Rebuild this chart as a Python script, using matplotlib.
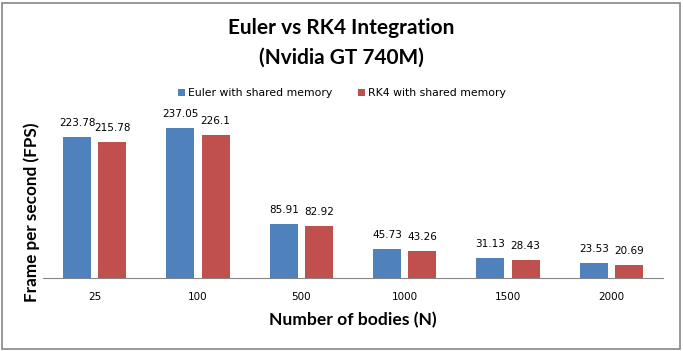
import numpy as np
import matplotlib
matplotlib.use('Agg')
import matplotlib.pyplot as plt
from matplotlib.patches import Rectangle

categories = ['25', '100', '500', '1000', '1500', '2000']
euler = [223.78, 237.05, 85.91, 45.73, 31.13, 23.53]
rk4 = [215.78, 226.1, 82.92, 43.26, 28.43, 20.69]
euler_labels = ['223.78', '237.05', '85.91', '45.73', '31.13', '23.53']
rk4_labels = ['215.78', '226.1', '82.92', '43.26', '28.43', '20.69']

BLUE = '#4F81BD'
RED = '#C0504D'
W, H = 683, 351

fig = plt.figure(figsize=(W / 100, H / 100), dpi=100)
fig.patch.set_facecolor('white')
fig.patches.append(Rectangle((2 / W, 2 / H), 678 / W, 346 / H, transform=fig.transFigure,
                             fill=False, edgecolor='#868686', linewidth=1.2))

ax = fig.add_axes([43 / W, (H - 278) / H, 620 / W, 158 / H])
x = np.arange(len(categories))
bw = 0.27
b1 = ax.bar(x - 0.17, euler, bw, color=BLUE, label='Euler with shared memory')
b2 = ax.bar(x + 0.17, rk4, bw, color=RED, label='RK4 with shared memory')

for bars, labels in [(b1, euler_labels), (b2, rk4_labels)]:
    for rect, lab in zip(bars, labels):
        ax.annotate(lab, (rect.get_x() + rect.get_width() / 2, rect.get_height()),
                    xytext=(0, 10), textcoords='offset points',
                    ha='center', va='center', fontsize=7.5, family='DejaVu Sans')

ax.set_xlim(-0.5, len(categories) - 0.5)
ax.set_ylim(0, 250)
ax.set_xticks(x)
ax.set_xticklabels(categories, fontsize=7.5, family='DejaVu Sans')
ax.tick_params(axis='x', length=0, pad=10)
ax.set_yticks([])
for s in ['top', 'right', 'left']:
    ax.spines[s].set_visible(False)
ax.spines['bottom'].set_color('#868686')

ax.set_xlabel('Number of bodies (N)', fontsize=12.6, fontweight='bold', family='Lato')
ax.xaxis.set_label_coords(0.5, -(320 - 278) / 158)
ax.xaxis.label.set_va('center')
ax.set_ylabel('Frame per second (FPS)', fontsize=12.3, fontweight='bold', family='Lato')
ax.yaxis.set_label_coords(-(43 - 32) / 620, (278 - 212) / 158)
ax.yaxis.label.set_va('center')

fig.text(341 / W, 1 - 28 / H, 'Euler vs RK4 Integration', ha='center', va='center',
         fontsize=15, fontweight='bold', family='Lato')
fig.text(341 / W, 1 - 58 / H, '(Nvidia GT 740M)', ha='center', va='center',
         fontsize=15, fontweight='bold', family='Lato')

fig.legend(handles=[b1, b2], loc='center', bbox_to_anchor=(342 / W, 1 - 93 / H), ncol=2,
           frameon=False, handlelength=0.6, handleheight=0.6,
           columnspacing=2.4, handletextpad=0.3, prop={'family': 'DejaVu Sans', 'size': 7.8})

fig.savefig('out.png', dpi=100, facecolor='white')
